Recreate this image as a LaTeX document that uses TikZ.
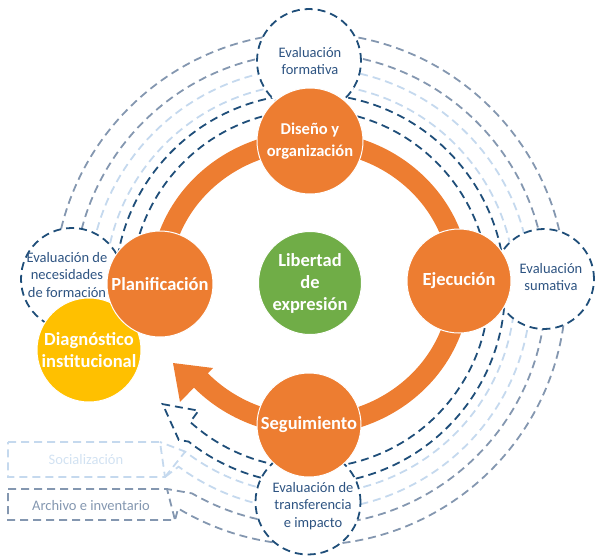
\documentclass[tikz,border=0pt]{standalone}
\usepackage{fontspec}
\setmainfont{Carlito}
\usetikzlibrary{calc}
\definecolor{navy}{HTML}{1F4E79}
\definecolor{navytext}{HTML}{2E5482}
\definecolor{bgray}{HTML}{8497B0}
\definecolor{lblue}{HTML}{C5D9EE}
\definecolor{ltext}{HTML}{D2E2F2}
\definecolor{orng}{HTML}{ED7D31}
\definecolor{grn}{HTML}{70AD47}
\definecolor{ylw}{HTML}{FFC000}
\begin{document}
\begin{tikzpicture}[x=1pt,y=-1pt,
  dsh/.style={dash pattern=on 8pt off 5pt, line width=1.8pt},
  dk/.style={dsh, draw=navy},
  gr/.style={dsh, draw=bgray},
  lt/.style={dsh, draw=lblue},
  evalcirc/.style={circle, dsh, draw=navy, fill=white, inner sep=0pt},
  evaltxt/.style={text=navytext, font=\fontsize{14.5}{17.5}\selectfont, align=center, inner sep=0pt},
  stage/.style={circle, fill=orng, draw=white, line width=1pt, inner sep=0pt, text=white,
    font=\fontsize{18.5}{22}\selectfont\bfseries, align=center},
  boxtxt/.style={font=\fontsize{14.5}{17.5}\selectfont, inner sep=0pt}
]
\useasboundingbox (0,0) rectangle (595,560);
\coordinate (C2) at (310,289);
\coordinate (O) at (310,283);
% box corners
\coordinate (soTL) at (8,442);
\coordinate (soTR) at (160,442);
\coordinate (soBR) at (165,477);
\coordinate (soBL) at (8,477);
\coordinate (arTL) at (8,489);
\coordinate (arTR) at (167,489);
\coordinate (arBR) at (175,520);
\coordinate (arBL) at (8,520);
% arrow head points of the dark band
\coordinate (dkWo) at ($(C2)+(131:200)$);
\coordinate (dkTip) at ($(C2)+(142:187)$);
\coordinate (dkWi) at ($(C2)+(132.5:165)$);
\coordinate (dkIn) at ($(C2)+(132:179)$);

% gray band
\draw[gr] (C2) ++(182:256) arc[start angle=182, end angle=481, radius=256] -- (arBR);
\draw[gr] (C2) ++(182:236) arc[start angle=182, end angle=480, radius=236] -- (arTR);
% light band
\draw[lt] (C2) ++(182:221) arc[start angle=182, end angle=486.5, radius=221] -- (soBR);
\draw[lt] (C2) ++(182:205) arc[start angle=182, end angle=487.5, radius=205] coordinate (ltIn) -- (soTR);
\draw[lt] (soBR) -- (ltIn);
% dark band with arrow head
\draw[dk] (C2) ++(182:195) arc[start angle=182, end angle=488.5, radius=195]
  -- (dkWo) -- (dkTip) -- (dkWi) -- (dkIn)
  arc[start angle=492, end angle=182, radius=179];

% boxes
\draw[lt] (soTL) -- (soTR) -- (soBR) -- (soBL) -- cycle;
\draw[gr] (arTL) -- (arTR) -- (arBR) -- (arBL) -- cycle;
\node[boxtxt, text=ltext] (soc) at (86,460) {Socialización};
\node[boxtxt, text=bgray] (arch) at (91,506) {Archivo e inventario};

% evaluation circles
\node[evalcirc, minimum size=104pt] (formC) at (309,61) {};
\node[evalcirc, minimum size=100pt] (sumC) at (544,279) {};
\node[evalcirc, minimum size=105pt] (transC) at (308,502) {};
\node[evalcirc, minimum size=102pt] (necC) at (72,279) {};
\node[evaltxt] (formT) at (310,61) {Evaluación\\formativa};
\node[evaltxt] (sumT) at (551,277) {Evaluación\\sumativa};
\node[evaltxt] (transT) at (313,506) {Evaluación de\\transferencia\\e impacto};

% orange cycle
\draw[orng, line width=20pt] (O) ++(185:150 and 142)
  arc[start angle=185, end angle=498, x radius=150, y radius=142];
\coordinate (arTip) at (173,363);
\coordinate (arW1) at (213,368);
\coordinate (arW2) at (180,402);
\fill[orng] (arTip) -- (arW1) -- (arW2) -- cycle;

% main circles
\node[stage, fill=ylw, minimum size=104pt] (diag) at (89,350) {Diagnóstico\\institucional};
\node[stage, minimum size=106pt, font=\fontsize{16.5}{22}\selectfont\bfseries] (dis) at (310,141) {Diseño y\\organización};
\node[stage, minimum size=106pt] (plan) at (160,284) {Planificación};
\node[stage, minimum size=104pt] (eje) at (459,281) {Ejecución};
\node[stage, minimum size=104pt] (seg) at (309,425) {Seguimiento};
\node[stage, fill=grn, minimum size=103pt] (lib) at (310,283) {Libertad\\de\\expresión};
\node[evaltxt] (necT) at (67,275) {Evaluación de\\necesidades\\de formación};
\end{tikzpicture}
\end{document}
